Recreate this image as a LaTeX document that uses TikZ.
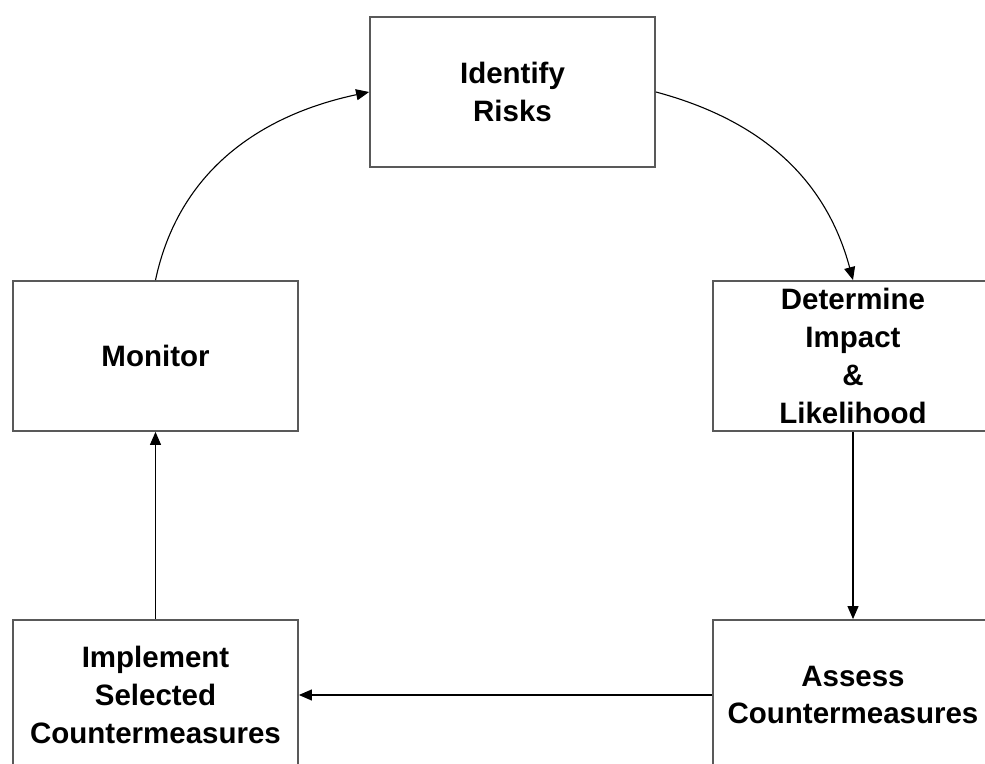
\documentclass[tikz,border=0pt]{standalone}
\usepackage{fontspec}
\setmainfont{Liberation Sans}
\usetikzlibrary{arrows.meta}
\begin{document}
\begin{tikzpicture}[x=1bp,y=1bp,
  stage/.style={draw=black!65, line width=1.8bp, fill=white, align=center,
    minimum width=285bp, minimum height=150bp, inner sep=0pt,
    font=\fontsize{29.6}{38}\selectfont\bfseries},
  wide/.style={minimum width=280bp},
  flow/.style={draw=black, line width=1.1bp, -{Triangle[length=13bp,width=11bp]}}]
  \useasboundingbox (0,0) rectangle (985,764);
  \clip (0,0) rectangle (985,764);

  % process steps
  \node[stage] (identify) at (512.5,672) {Identify\\Risks};
  \node[stage] (monitor) at (155.5,408) {Monitor};
  \node[stage,wide] (determine) at (853,408) {Determine\\Impact\\\&\\Likelihood};
  \node[stage] (implement) at (155.5,69) {Implement\\Selected\\Countermeasures};
  \node[stage,wide] (assess) at (853,69) {Assess\\Countermeasures};

  % cycle connectors
  \draw[flow] (monitor.north) to[out=78,in=192] (identify.west);
  \draw[flow] (identify.east) to[out=-15,in=105] (determine.north);
  \draw[flow] (determine.south) -- (assess.north);
  \draw[flow] (assess.west) -- (implement.east);
  \draw[flow] (implement.north) -- (monitor.south);
\end{tikzpicture}
\end{document}
